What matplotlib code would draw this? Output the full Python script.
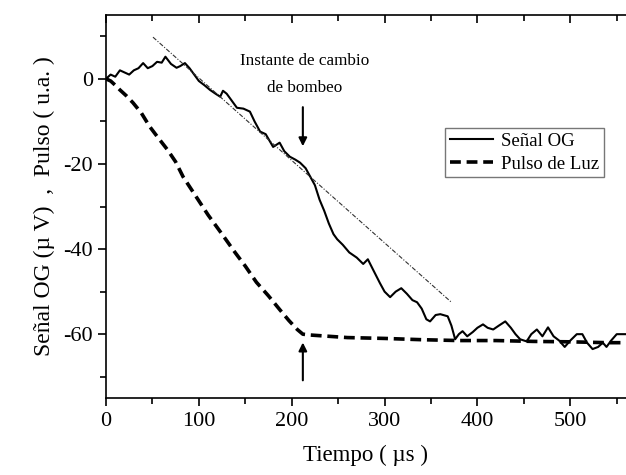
import matplotlib.pyplot as plt
from matplotlib.ticker import MultipleLocator

# Señal OG (solid)
t_og = [0, 5, 10, 15, 20, 25, 30, 35, 40, 45, 50, 55, 60, 64, 70, 76, 80, 85, 90, 95,
        100, 106, 112, 118, 123, 126, 130, 135, 141, 148, 155, 160, 166, 172, 180, 187,
        192, 198, 204, 209, 215, 220, 225, 230, 235, 240, 245, 249, 255, 262, 270, 277,
        282, 288, 295, 300, 306, 312, 318, 324, 330, 335, 340, 345, 349, 355, 360, 368,
        372, 376, 380, 384, 389, 395, 400, 406, 411, 417, 423, 430, 436, 441, 446, 453,
        458, 464, 470, 476, 482, 488, 494, 500, 507, 513, 518, 524, 530, 535, 539, 544,
        550, 555, 560]
og = [0, 1, 0.5, 2, 1.5, 1, 2, 2.5, 3.7, 2.5, 3, 4, 3.8, 5.2, 3.5, 2.6, 3, 3.7, 2.5, 1,
      -0.5, -1.5, -2.6, -3.5, -4.2, -2.8, -3.5, -5, -6.8, -7, -7.7, -10, -12.4, -13, -16, -15,
      -17, -18.3, -19, -19.7, -21, -23, -25, -28.4, -31, -34, -36.5, -37.7, -39, -40.8, -42, -43.5,
      -42.4, -45, -48, -50, -51.3, -50, -49.2, -50.5, -52, -52.5, -54, -56.5, -57, -55.5, -55.3, -55.8,
      -58, -61.2, -60, -59.3, -60.5, -59.5, -58.5, -57.7, -58.5, -58.9, -58, -57, -58.5, -60, -61.2, -61.7,
      -60, -58.9, -60.5, -58.4, -60.5, -61.5, -63, -61.5, -60, -60, -62, -63.5, -63, -62, -63, -61.5,
      -60, -60, -60]

# Pulso de Luz (dashed)
t_pulse = [0, 5, 10, 15, 22, 29, 38, 47, 56, 66, 75, 83, 95, 110, 125, 139, 150, 162, 175,
           187, 197, 206, 212, 220, 240, 260, 300, 340, 380, 420, 460, 500, 540, 560]
pulse = [0, -0.5, -1.5, -2.6, -4, -5.6, -8, -11.2, -13.8, -16.6, -19.5, -23, -27, -32, -36.5,
         -40.8, -44, -47.8, -51, -54.2, -56.8, -58.9, -60, -60.2, -60.5, -60.8, -61, -61.3, -61.5,
         -61.5, -61.7, -61.8, -62, -62]

# linear fit guide (dash-dot)
fit_t = [50.6, 372]
fit_y = [9.8, -52.5]

plt.rcParams['font.family'] = ['Liberation Serif', 'DejaVu Serif']
plt.rcParams['axes.unicode_minus'] = False

fig = plt.figure(figsize=(6.26, 4.75), dpi=100)
ax = fig.add_axes([0.1693, 0.1621, 0.8307, 0.8063])

ax.plot(t_og, og, color='black', linewidth=1.5, label='Señal OG')
ax.plot(t_pulse, pulse, color='black', linewidth=2.6, linestyle=(0, (3, 1.6)), label='Pulso de Luz')
ax.plot(fit_t, fit_y, color='#333333', linewidth=0.8, linestyle=(0, (4, 1.5, 1, 1.5)))

ax.annotate('', xy=(212, -16.5), xytext=(212, -6),
            arrowprops=dict(arrowstyle='-|>', color='black', lw=1.5, mutation_scale=12))
ax.annotate('', xy=(212, -61.3), xytext=(212, -71.5),
            arrowprops=dict(arrowstyle='-|>', color='black', lw=1.5, mutation_scale=12))
ax.text(214, 1.0, 'Instante de cambio\nde bombeo', ha='center', va='center',
        fontsize=12.3, linespacing=1.85)

ax.set_xlim(0, 560)
ax.set_ylim(-75, 15)
ax.xaxis.set_major_locator(MultipleLocator(100))
ax.xaxis.set_minor_locator(MultipleLocator(50))
ax.yaxis.set_major_locator(MultipleLocator(20))
ax.yaxis.set_minor_locator(MultipleLocator(10))
ax.set_yticks([0, -20, -40, -60])

ax.spines['right'].set_visible(False)
for s in ['left', 'bottom', 'top']:
    ax.spines[s].set_linewidth(1.2)

ax.tick_params(axis='both', which='both', direction='out', width=1.2, labelsize=16)
ax.tick_params(which='major', length=6)
ax.tick_params(which='minor', length=4)
ax.tick_params(axis='x', which='both', top=True, pad=4)
# top ticks point inward
for tk in ax.xaxis.get_major_ticks() + ax.xaxis.get_minor_ticks():
    tk.tick2line.set_marker(3)

ax.set_xlabel('Tiempo ( µs )', fontsize=16.5, labelpad=10)
ax.set_ylabel('Señal OG (µ V)  ,  Pulso ( u.a. )', fontsize=17, labelpad=6)

leg = ax.legend(loc='upper left', bbox_to_anchor=(0.652, 0.705), fontsize=13.5,
                frameon=True, fancybox=False, edgecolor='#555555', handlelength=2.3,
                borderpad=0.25, labelspacing=0.3, handletextpad=0.45, borderaxespad=0)
leg.get_frame().set_linewidth(1.0)

fig.savefig('out.png', dpi=100)
